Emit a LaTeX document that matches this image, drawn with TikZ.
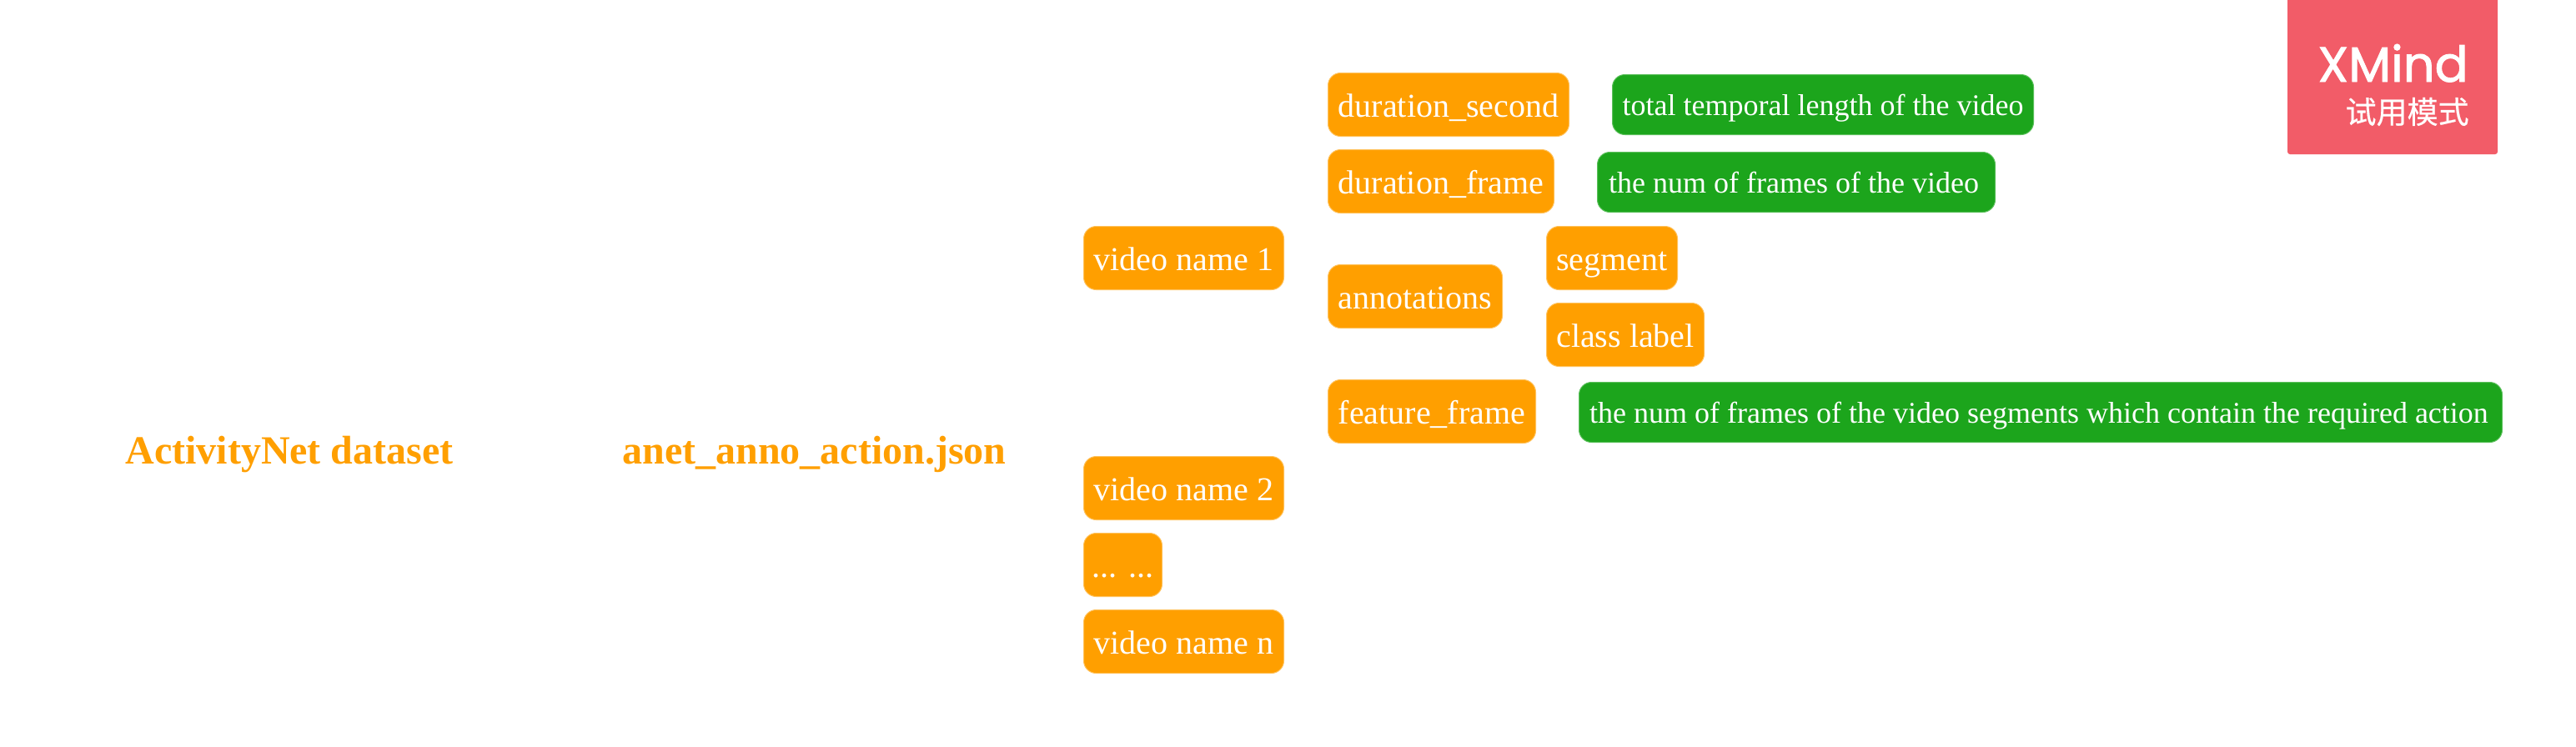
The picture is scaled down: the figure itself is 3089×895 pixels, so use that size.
\documentclass[tikz,border=0pt]{standalone}
\usepackage{fontspec}
\setmainfont{Liberation Serif}
\newfontfamily\logofont[FakeBold=1.6]{Poppins}
\newfontfamily\cjkfont[FakeBold=0.4]{Noto Sans CJK SC}
\definecolor{topicorange}{HTML}{FF9F00}
\definecolor{edgeorange}{HTML}{FFC25C}
\definecolor{notegreen}{HTML}{1CA51C}
\definecolor{edgegreen}{HTML}{5CC05C}
\definecolor{logored}{HTML}{F25C68}
\tikzset{
  topicbox/.style={draw=edgeorange, line width=0.5pt, fill=topicorange, text=white, rounded corners=7.5pt,
    anchor=north west, inner sep=0pt, minimum height=38pt, minimum width=#1*0.5pt,
    text height=18.5pt, text depth=4pt, font=\fontsize{20}{24}\selectfont},
  notebox/.style={draw=edgegreen, line width=0.5pt, fill=notegreen, text=white, rounded corners=7.5pt,
    anchor=north west, inner sep=0pt, minimum height=36pt, minimum width=#1*0.5pt,
    text height=17pt, text depth=4pt, font=\fontsize{18}{22}\selectfont},
  heading/.style={anchor=base west, inner sep=0pt, text=topicorange, font=\fontsize{24}{28}\selectfont\bfseries}
}
\begin{document}
\begin{tikzpicture}[x=0.5pt,y=-0.5pt]
\useasboundingbox[fill=white] (0,0) rectangle (3089,895);
% root and file headings
\node[heading] (root) at (150,556) {ActivityNet dataset};
\node[heading] (file) at (746,556) {anet\_anno\_action.json};
% videos
\node[topicbox=240] (v1) at (1299,271) {video name 1};
\node[topicbox=240] (v2) at (1299,547) {video name 2};
\node[topicbox=94] (vdots) at (1299,639) {... ...};
\node[topicbox=240] (vn) at (1299,731) {video name n};
% fields of one video
\node[topicbox=289] (dursec) at (1592,87) {duration\_second};
\node[topicbox=271] (durframe) at (1592,179) {duration\_frame};
\node[topicbox=209] (annot) at (1592,317) {annotations};
\node[topicbox=249] (featframe) at (1592,455) {feature\_frame};
\node[topicbox=157] (segment) at (1854,271) {segment};
\node[topicbox=189] (classlabel) at (1854,363) {class label};
% field descriptions; the last two carry a trailing space inside the box
\node[notebox=505] (notesec) at (1933,89) {total temporal length of the video};
\node[notebox=477] (noteframe) at (1915,182) {the num of frames of the video\kern3pt\null};
\node[notebox=1107] (notefeat) at (1893,458) {the num of frames of the video segments which contain the required action\kern2pt\null};
% trial badge
\fill[logored, rounded corners=1.5pt] (2743,-6) rectangle (2995,185);
\node[anchor=base east, inner sep=0pt, text=white, font=\logofont\fontsize{29.6}{32}\selectfont] (logo) at (2960,98) {XMind};
\node[anchor=base east, inner sep=0pt, text=white, font=\cjkfont\fontsize{18.5}{22}\selectfont] (trial) at (2961,148) {试用模式};
\end{tikzpicture}
\end{document}
